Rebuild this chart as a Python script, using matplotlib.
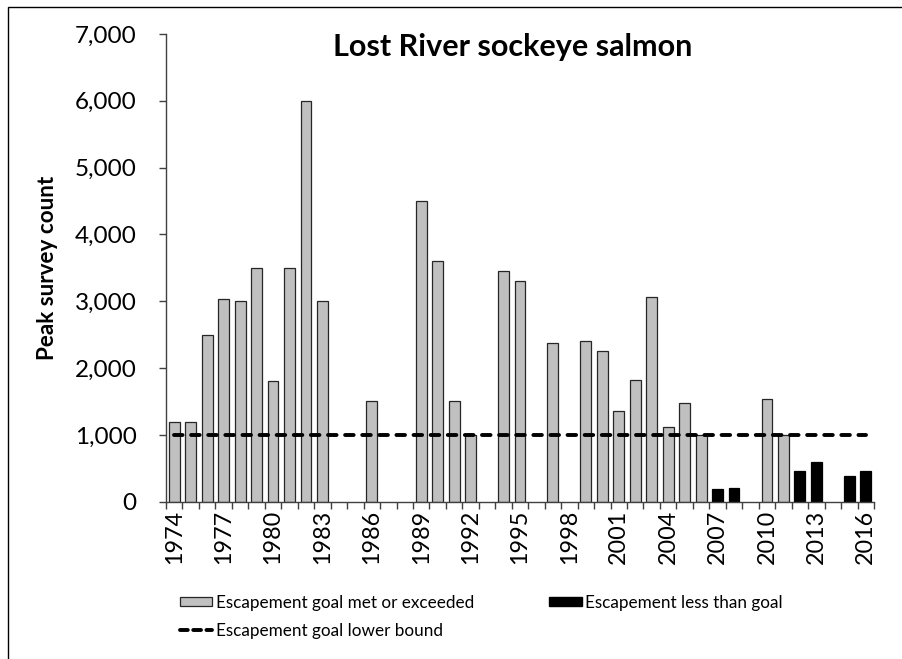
import matplotlib
matplotlib.use("Agg")
import matplotlib.pyplot as plt
import numpy as np
from matplotlib.patches import Rectangle, Patch
from matplotlib.lines import Line2D
from matplotlib.ticker import FuncFormatter

plt.rcParams["font.family"] = ["Lato", "DejaVu Sans"]

years = list(range(1974, 2017))
counts = [1200, 1200, 2500, 3030, 3000, 3500, 1800, 3500, 6000, 3000,
          0, 0, 1500, 0, 0, 4500, 3600, 1500, 1000, 0,
          3460, 3300, 0, 2370, 0, 2400, 2250, 1360, 1820, 3060,
          1120, 1470, 1000, 190, 200, 0, 1530, 1000, 460, 590,
          0, 385, 460]
goal = 1000
label_years = list(range(1974, 2017, 3))

x = np.arange(len(years))
counts = np.array(counts)
met = counts >= goal
low = (counts < goal) & (counts > 0)

fig = plt.figure(figsize=(9.02, 6.59), dpi=100)
ax = fig.add_axes([166 / 902, 1 - 501.7 / 659, (874 - 166) / 902, (501.7 - 34) / 659])

ax.bar(x[met], counts[met], width=0.66, color="#c0c0c0", edgecolor="#262626", linewidth=0.9, zorder=2)
ax.bar(x[low], counts[low], width=0.66, color="black", edgecolor="black", linewidth=0.9, zorder=2)
ax.plot([x[0], x[-1]], [goal, goal], color="black", linewidth=2.8,
        linestyle=(0, (2.2, 2.2)), dash_capstyle="round", zorder=3)

ax.set_xlim(-0.5, len(years) - 0.5)
ax.set_ylim(0, 7000)
ax.set_yticks(np.arange(0, 7001, 1000))
ax.yaxis.set_major_formatter(FuncFormatter(lambda v, p: f"{int(v):,}"))

ax.set_xticks([years.index(y) for y in label_years])
ax.set_xticklabels([str(y) for y in label_years], rotation=90)
ax.set_xticks(np.arange(-0.5, len(years)), minor=True)
ax.tick_params(axis="x", which="major", length=0, pad=6, labelsize=16.8)
ax.tick_params(axis="x", which="minor", length=5, width=1, color="#404040", direction="out")
ax.tick_params(axis="y", length=5, width=1, color="#404040", labelsize=17.5, pad=16)

for s in ["top", "right"]:
    ax.spines[s].set_visible(False)
for s in ["left", "bottom"]:
    ax.spines[s].set_color("#404040")
    ax.spines[s].set_linewidth(1)

ax.set_ylabel("Peak survey count", fontsize=16.2, fontweight="bold", labelpad=12)
fig.text(513 / 902, 1 - 47 / 659, "Lost River sockeye salmon", ha="center", va="center",
         fontsize=22, fontweight="bold")

handles = [Patch(facecolor="#c0c0c0", edgecolor="#262626", linewidth=0.9),
           Line2D([0], [0], color="black", linewidth=2.8, linestyle=(0, (2.0, 1.4)), dash_capstyle="round"),
           Patch(facecolor="black", edgecolor="black")]
labels = ["Escapement goal met or exceeded", "Escapement goal lower bound",
          "Escapement less than goal"]
fig.legend(handles, labels, loc="upper left", bbox_to_anchor=(168 / 902, 1 - 583 / 659),
           ncol=2, frameon=False, fontsize=12.3, handlelength=1.9, handleheight=0.45,
           handletextpad=0.2, columnspacing=4.4, labelspacing=0.68, borderpad=0.2)

fig.patches.append(Rectangle((8 / 902, -0.05), 1.1, 1 - 7 / 659 + 0.05, transform=fig.transFigure,
                             fill=False, edgecolor="black", linewidth=1))

fig.savefig("out.png", dpi=100)
